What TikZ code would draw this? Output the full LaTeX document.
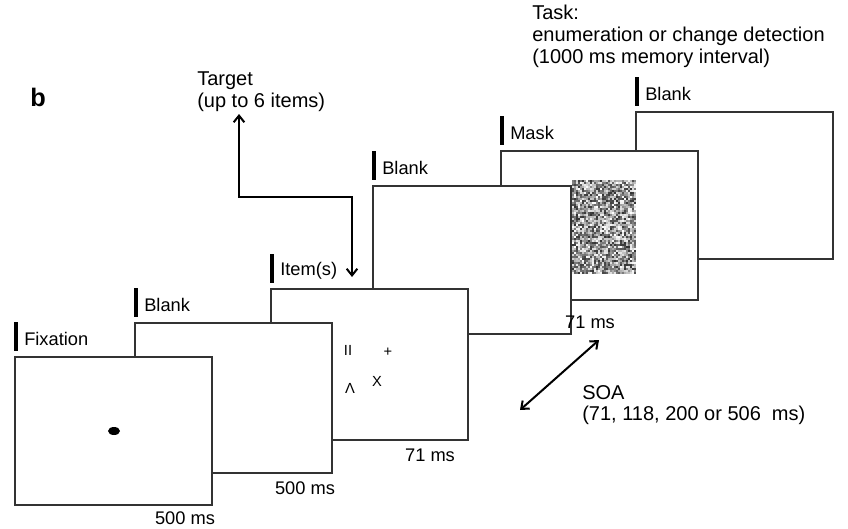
\documentclass[tikz,border=0pt]{standalone}
\usepackage{fontspec}
\setmainfont{Liberation Sans}
\usetikzlibrary{arrows.meta,shapes.geometric}
\begin{document}
\begin{tikzpicture}[x=0.75pt,y=-0.75pt,
  screen/.style={draw=black!80,line width=0.8pt,fill=white},
  labelbar/.style={line width=2.4pt,black},
  lbl/.style={anchor=west,inner sep=0pt,font=\fontsize{15}{17}\selectfont},
  slbl/.style={anchor=west,inner sep=0pt,font=\fontsize{13.7}{16}\selectfont},
  txt/.style={inner sep=0pt,font=\fontsize{13.7}{16}\selectfont},
  sym/.style={inner sep=0pt,font=\fontsize{11}{12}\selectfont},
  arr/.style={line width=1.5pt,{Straight Barb[length=5pt,width=8pt,line width=1.5pt]}-{Straight Barb[length=5pt,width=8pt,line width=1.5pt]}}]
\useasboundingbox (0,0) rectangle (848,528);
% screens back to front
\newcommand{\scr}[5]{%
  \draw[screen] (#1,#2) rectangle (#3,#4);
  \draw[labelbar] (#1+1,#2-35) -- (#1+1,#2-6);
  \node[slbl] at (#1+9,#2-18) {#5};}
\scr{636}{112}{833}{259}{Blank}
\scr{501}{151}{698}{300}{Mask}
% noise mask
\pgfmathsetseed{7}
\foreach \i in {0,...,31}{\foreach \j in {0,...,46}{%
  \pgfmathsetmacro\g{int(random(0,80))}%
  \fill[black!\g] (572+2*\i,180+2*\j) rectangle ++(2,2);}}
\scr{373}{186}{571}{334}{Blank}
\scr{271}{289}{468}{440}{Item(s)}
\node[sym] (s1) at (348,350) {II};
\node[sym] (s2) at (388,352) {+};
\node[sym] (s3) at (350,388) {Λ};
\node[sym] (s4) at (377,381) {X};
\scr{135}{323}{332}{473}{Blank}
\scr{15}{357}{212}{505}{Fixation}
\fill (114,431) ellipse (6 and 4);
% durations
\node[txt] (d1) at (185,518) {500 ms};
\node[txt] (d2) at (305,488) {500 ms};
\node[txt] (d3) at (430,455) {71 ms};
\node[txt] (d4) at (590,322) {71 ms};
% panel letter
\node[inner sep=0pt,font=\fontsize{19}{20}\selectfont\bfseries] (b) at (38,97) {b};
% target
\node[lbl] (tg) at (197,81) {Target};
\node[lbl] (tg2) at (197,102) {(up to 6 items)};
\coordinate (ta) at (239,114);
\coordinate (tb) at (352,277);
\draw[arr] (ta) -- (239,197) -- (352,197) -- (tb);
% task
\node[lbl] (t1) at (532,12) {Task:};
\node[lbl] (t2) at (532,36) {enumeration or change detection};
\node[lbl] (t3) at (532,58) {(1000 ms memory interval)};
% SOA
\coordinate (sa) at (520,410);
\coordinate (sb) at (599,340);
\draw[arr] (sa) -- (sb);
\node[lbl] (soa) at (582,393) {SOA};
\node[lbl] (soa2) at (582,415) {(71, 118, 200 or 506~ ms)};
\end{tikzpicture}
\end{document}
